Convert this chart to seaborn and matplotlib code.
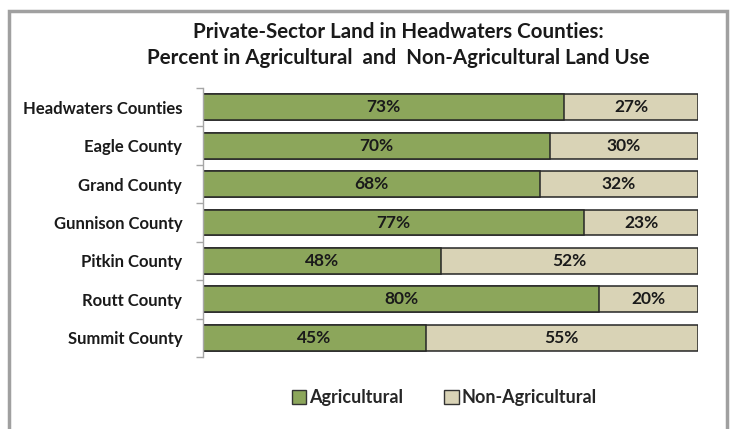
import matplotlib
matplotlib.use("Agg")
import matplotlib.pyplot as plt
import seaborn as sns
import pandas as pd
from matplotlib.patches import Rectangle, Patch

counties = ["Headwaters Counties", "Eagle County", "Grand County", "Gunnison County",
            "Pitkin County", "Routt County", "Summit County"]
agricultural = [73, 70, 68, 77, 48, 80, 45]
non_agricultural = [27, 30, 32, 23, 52, 20, 55]

title = "Private-Sector Land in Headwaters Counties:\nPercent in Agricultural  and  Non-Agricultural Land Use"

GREEN = "#8CA65B"
BEIGE = "#D9D3B6"
FONT = "Lato"

sns.set_theme(style="white")
plt.rcParams["font.family"] = [FONT, "DejaVu Sans"]

df = pd.DataFrame({
    "county": counties,
    "ag": agricultural,
    "total": [a + n for a, n in zip(agricultural, non_agricultural)],
})

fig = plt.figure(figsize=(7.30, 4.29), dpi=100)
# outer frame
fig.patches.append(Rectangle((9 / 730, -0.1), 718 / 730, 1.1 - 11 / 429,
                             transform=fig.transFigure, fill=False,
                             edgecolor="#A0A0A0", linewidth=2.5, zorder=0))

ax = fig.add_axes([203 / 730, 1 - 357 / 429, 495 / 730, (357 - 88) / 429])

sns.barplot(data=df, y="county", x="total", orient="h", color=BEIGE,
            edgecolor="#262626", linewidth=1.1, width=0.67, ax=ax, saturation=1)
sns.barplot(data=df, y="county", x="ag", orient="h", color=GREEN,
            edgecolor="#262626", linewidth=1.1, width=0.67, ax=ax, saturation=1)

for i, (a, n) in enumerate(zip(agricultural, non_agricultural)):
    ax.text(a / 2, i, f"{a}%", ha="center", va="center", fontsize=12.5,
            fontweight="bold", color="#1a1a1a")
    ax.text(a + n / 2, i, f"{n}%", ha="center", va="center", fontsize=12.5,
            fontweight="bold", color="#1a1a1a")

ax.set_xlim(0, 100)
ax.set_ylim(len(counties) - 0.5, -0.5)
ax.set_xlabel("")
ax.set_ylabel("")
ax.set_xticks([])
for s in ["top", "right", "bottom"]:
    ax.spines[s].set_visible(False)
ax.spines["left"].set_color("#A6A6A6")
ax.spines["left"].set_linewidth(1.0)
ax.set_yticks(range(len(counties)))
ax.set_yticklabels(counties, fontsize=12, fontweight="bold", color="#1a1a1a")
ax.tick_params(axis="y", which="major", length=0, pad=15)
ax.set_yticks([i - 0.5 for i in range(len(counties) + 1)], minor=True)
ax.tick_params(axis="y", which="minor", length=5, width=1.0, color="#A6A6A6", left=True)

fig.text(398 / 730, 1 - 45 / 429, title, ha="center", va="center", fontsize=14.8,
         fontweight="bold", color="#1a1a1a", linespacing=1.4)

handles = [Patch(facecolor=GREEN, edgecolor="#333333", label="Agricultural"),
           Patch(facecolor=BEIGE, edgecolor="#333333", label="Non-Agricultural")]
fig.legend(handles=handles, loc="center", bbox_to_anchor=(444 / 730, 1 - 398 / 429),
           ncol=2, frameon=False, prop={"size": 13, "weight": "bold"},
           handlelength=0.8, handleheight=0.8, handletextpad=0.15, columnspacing=2.3)

fig.savefig("out.png", dpi=100)
